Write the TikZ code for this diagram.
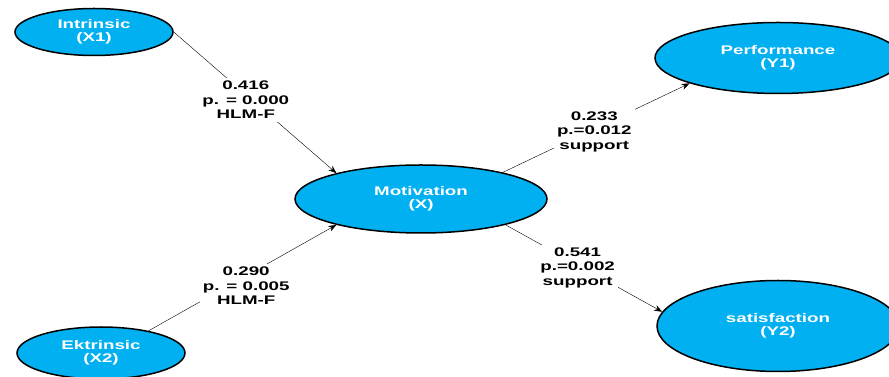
\documentclass[tikz,border=0pt]{standalone}
\usepackage{xcolor}
\usepackage{fontspec}
\setmainfont[FakeStretch=1.5]{Liberation Sans}
\usetikzlibrary{shapes.geometric, arrows.meta}
\definecolor{skyfill}{HTML}{00B0F0}

\begin{document}
\begin{tikzpicture}[
    x=1pt, y=1pt,
    latent/.style={ellipse, draw, line width=1.5pt, fill=skyfill, text=white, align=center, inner sep=0pt,
        font=\fontsize{12.5}{13.5}\selectfont\bfseries},
    path/.style={thin, -{Stealth[length=8pt, width=6pt]}},
    coef/.style={fill=white, align=center, inner sep=3pt, font=\fontsize{12.5}{14.5}\selectfont\bfseries}
]
\useasboundingbox (0,0) rectangle (889,377);
\clip (0,0) rectangle (889,377);

% Nodes
\node[latent, minimum width=158pt, minimum height=47pt] (intr) at (94,345) {Intrinsic\\(X1)};
\node[latent, minimum width=168pt, minimum height=52pt] (ektr) at (101,24) {Ektrinsic\\(X2)};
\node[latent, minimum width=252pt, minimum height=68pt] (motiv) at (421,178) {Motivation\\(X)};
\node[latent, minimum width=246pt, minimum height=71pt] (perf) at (778,319) {Performance\\(Y1)};
\node[latent, minimum width=242pt, minimum height=91pt] (satis) at (778,51) {satisfaction\\(Y2)};

% Arrows
\draw[path] (intr.east) -- node[coef, pos=0.48, xshift=-6pt] {0.416\\p. = 0.000\\HLM-F} (motiv.163);
\draw[path] (ektr.25) -- node[coef, pos=0.52, yshift=-10pt] {0.290\\p. = 0.005\\HLM-F} (motiv.197);
\draw[path] (motiv.18) -- node[coef, pos=0.49, yshift=-3pt] {0.233\\p.=0.012\\support} (perf.196);
\draw[path] (motiv.343) -- node[coef, pos=0.46, yshift=-3pt] {0.541\\p.=0.002\\support} (satis.173);

\end{tikzpicture}
\end{document}
